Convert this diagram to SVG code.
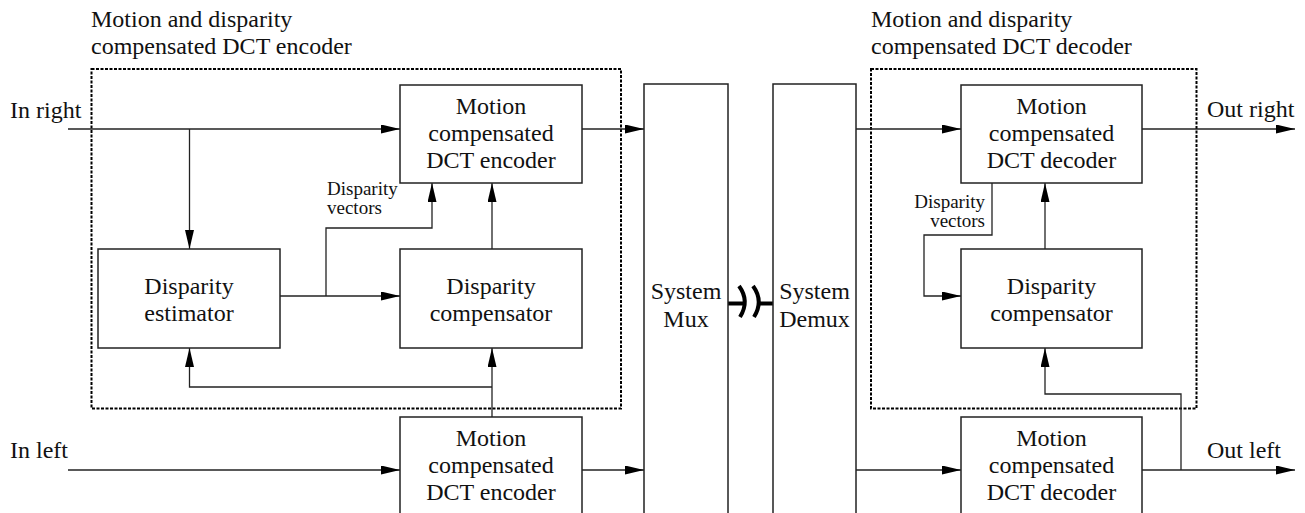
<svg xmlns="http://www.w3.org/2000/svg" width="1305" height="513" viewBox="0 0 1305 513">
<style>
.t{font-family:"Liberation Serif","Times New Roman",serif;font-size:24px;fill:#111}
.s{font-family:"Liberation Serif","Times New Roman",serif;font-size:19px;fill:#111}
.m{text-anchor:middle}
.e{text-anchor:end}
.box{fill:#fff;stroke:#222;stroke-width:1.5}
.dot{fill:none;stroke:#000;stroke-width:2;stroke-dasharray:3 1.5}
.ln{fill:none;stroke:#222;stroke-width:1.3}
.ar{fill:none;stroke:#222;stroke-width:1.3;marker-end:url(#ah)}
.thick{fill:none;stroke:#000;stroke-width:4}
</style>
<defs>
<marker id="ah" markerUnits="userSpaceOnUse" markerWidth="20" markerHeight="10" refX="19" refY="4.5" orient="auto">
<path d="M0,0 L19,4.5 L0,9 z" fill="#000"/>
</marker>
</defs>
<rect width="1305" height="513" fill="#fff"/>

<g id="encoder-group">
<rect class="dot" x="91.5" y="69" width="529.5" height="339.5"/>
<text class="t" x="91" y="27">Motion and disparity</text>
<text class="t" x="91" y="54">compensated DCT encoder</text>
</g>
<g id="decoder-group">
<rect class="dot" x="871" y="69" width="325.5" height="339.5"/>
<text class="t" x="871" y="27">Motion and disparity</text>
<text class="t" x="871" y="54">compensated DCT decoder</text>
</g>

<g id="connectors">
<!-- encoder right -->
<line class="ar" x1="68" y1="129" x2="400" y2="129"/>
<line class="ar" x1="189.5" y1="129" x2="189.5" y2="249"/>
<line class="ar" x1="280" y1="296" x2="400" y2="296"/>
<polyline class="ar" points="326,296 326,228 432,228 432,183"/>
<line class="ar" x1="492" y1="249" x2="492" y2="183"/>
<line class="ar" x1="492" y1="417" x2="492" y2="348"/>
<polyline class="ar" points="492,387 189.5,387 189.5,348"/>
<line class="ar" x1="582" y1="129" x2="644" y2="129"/>
<!-- encoder left -->
<line class="ar" x1="68" y1="470" x2="400" y2="470"/>
<line class="ar" x1="582" y1="470" x2="644" y2="470"/>
<!-- channel -->
<line class="thick" x1="728" y1="303.5" x2="746" y2="303.5"/>
<path class="thick" d="M739,286 Q750,301 740,317"/>
<path class="thick" d="M753,286 Q764,301 754,317"/>
<line class="thick" x1="760" y1="303.5" x2="773" y2="303.5"/>
<!-- decoder -->
<line class="ar" x1="856" y1="129" x2="961" y2="129"/>
<line class="ar" x1="1142" y1="129" x2="1295" y2="129"/>
<polyline class="ar" points="992,183 992,235 924,235 924,296 961,296"/>
<line class="ar" x1="1045" y1="249" x2="1045" y2="183"/>
<line class="ar" x1="856" y1="470" x2="961" y2="470"/>
<line class="ar" x1="1142" y1="470" x2="1295" y2="470"/>
<polyline class="ar" points="1181,470 1181,394 1045,394 1045,348"/>
</g>

<g id="in-right"><text class="t" x="10" y="118">In right</text></g>
<g id="in-left"><text class="t" x="10" y="458">In left</text></g>
<g id="out-right"><text class="t" x="1207" y="117">Out right</text></g>
<g id="out-left"><text class="t" x="1207" y="458">Out left</text></g>

<g id="enc-dv-label">
<text class="s" x="327" y="195">Disparity</text>
<text class="s" x="327" y="214">vectors</text>
</g>
<g id="dec-dv-label">
<text class="s e" x="985" y="208">Disparity</text>
<text class="s e" x="985" y="227">vectors</text>
</g>

<g id="mc-enc-right">
<rect class="box" x="400" y="85" width="182" height="98"/>
<text class="t m" x="491" y="114">Motion</text>
<text class="t m" x="491" y="141">compensated</text>
<text class="t m" x="491" y="168">DCT encoder</text>
</g>
<g id="disp-est">
<rect class="box" x="98" y="249" width="182" height="99"/>
<text class="t m" x="189" y="294">Disparity</text>
<text class="t m" x="189" y="321">estimator</text>
</g>
<g id="disp-comp-enc">
<rect class="box" x="400" y="249" width="182" height="99"/>
<text class="t m" x="491" y="294">Disparity</text>
<text class="t m" x="491" y="321">compensator</text>
</g>
<g id="mc-enc-left">
<rect class="box" x="400" y="417" width="182" height="110"/>
<text class="t m" x="491" y="446">Motion</text>
<text class="t m" x="491" y="473">compensated</text>
<text class="t m" x="491" y="500">DCT encoder</text>
</g>
<g id="mux">
<rect class="box" x="644" y="84" width="84" height="440"/>
<text class="t m" x="686" y="299">System</text>
<text class="t m" x="686" y="327">Mux</text>
</g>
<g id="demux">
<rect class="box" x="773" y="84" width="83" height="440"/>
<text class="t m" x="814.5" y="299">System</text>
<text class="t m" x="814.5" y="327">Demux</text>
</g>
<g id="mc-dec-right">
<rect class="box" x="961" y="85" width="181" height="98"/>
<text class="t m" x="1051.5" y="114">Motion</text>
<text class="t m" x="1051.5" y="141">compensated</text>
<text class="t m" x="1051.5" y="168">DCT decoder</text>
</g>
<g id="disp-comp-dec">
<rect class="box" x="961" y="249" width="181" height="99"/>
<text class="t m" x="1051.5" y="294">Disparity</text>
<text class="t m" x="1051.5" y="321">compensator</text>
</g>
<g id="mc-dec-left">
<rect class="box" x="961" y="417" width="181" height="110"/>
<text class="t m" x="1051.5" y="446">Motion</text>
<text class="t m" x="1051.5" y="473">compensated</text>
<text class="t m" x="1051.5" y="500">DCT decoder</text>
</g>
</svg>
